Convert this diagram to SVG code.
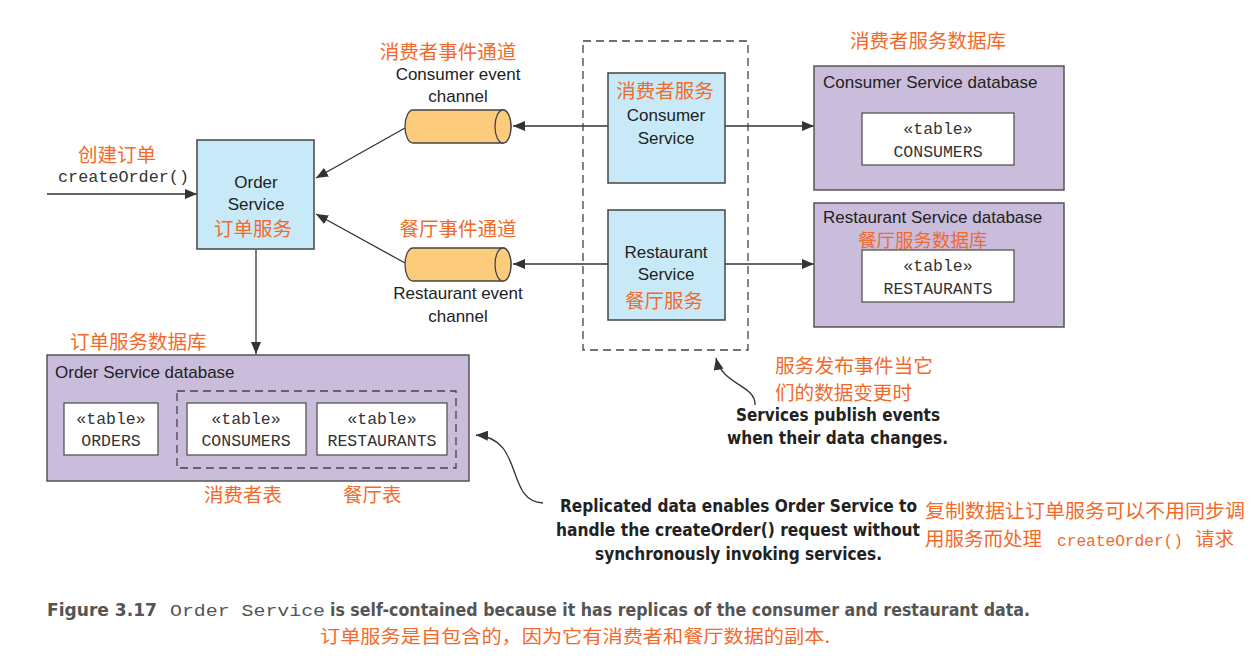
<svg xmlns="http://www.w3.org/2000/svg" width="1259" height="661" viewBox="0 0 1259 661">
<defs>
<marker id="ah" viewBox="0 0 12 10" refX="12" refY="5" markerWidth="12" markerHeight="10" markerUnits="userSpaceOnUse" orient="auto">
<path d="M0,0 L12,5 L0,10 z" fill="#333"/>
</marker>
</defs>
<style>
.svc{fill:#C8EAF8;stroke:#444;stroke-width:1.5}
.db{fill:#CABCDB;stroke:#555;stroke-width:1.5}
.tbl{fill:#fff;stroke:#555;stroke-width:1.3}
.dash{fill:none;stroke:#444;stroke-width:1.3;stroke-dasharray:8,5}
.cyl{fill:#FDCB7C;stroke:#444;stroke-width:1.3}
.ln{fill:none;stroke:#333;stroke-width:1.3}
.t{font-family:"Liberation Sans",Arial,sans-serif;font-size:17px;fill:#222}
.c{text-anchor:middle}
.zh{font-family:"Noto Sans CJK SC","Noto Sans",sans-serif;font-size:19.5px;fill:#F26A2B}
.m{font-family:"Liberation Mono","Courier New",monospace;font-size:16.5px;fill:#333}
.b{font-family:"Liberation Sans Narrow","DejaVu Sans Condensed","Liberation Sans",sans-serif;font-weight:bold;font-size:18px;fill:#222}
.cap{font-family:"Liberation Sans Narrow","DejaVu Sans Condensed","Liberation Sans",sans-serif;font-weight:bold;font-size:17px;fill:#555}
</style>
<rect width="1259" height="661" fill="#fff"/>

<g id="connectors">
<line class="ln" x1="47" y1="194" x2="197" y2="194" marker-end="url(#ah)"/>
<line class="ln" x1="256" y1="250" x2="256" y2="354" marker-end="url(#ah)"/>
<line class="ln" x1="405" y1="128" x2="316" y2="178" marker-end="url(#ah)"/>
<line class="ln" x1="405" y1="263" x2="316" y2="214" marker-end="url(#ah)"/>
<line class="ln" x1="608" y1="126" x2="513" y2="126" marker-end="url(#ah)"/>
<line class="ln" x1="608" y1="264" x2="513" y2="264" marker-end="url(#ah)"/>
<line class="ln" x1="725" y1="126" x2="814" y2="126" marker-end="url(#ah)"/>
<line class="ln" x1="725" y1="264" x2="814" y2="264" marker-end="url(#ah)"/>
<path class="ln" d="M755,405 C756,385 722,385 716,358" marker-end="url(#ah)"/>
<path class="ln" d="M543,503 C505,502 525,438 476,435" marker-end="url(#ah)"/>
</g>

<g id="order-service">
<rect class="svc" x="197" y="140" width="117" height="109"/>
<text class="t c" x="256" y="188">Order</text>
<text class="t c" x="256" y="210">Service</text>
<text class="zh c" x="253" y="236">订单服务</text>
</g>

<g id="create-order-label">
<text class="zh" x="78" y="162">创建订单</text>
<text class="m" x="58" y="182" textLength="131" lengthAdjust="spacingAndGlyphs">createOrder()</text>
</g>

<g id="consumer-channel">
<text class="zh c" x="448" y="59">消费者事件通道</text>
<text class="t c" x="458" y="80">Consumer event</text>
<text class="t c" x="458" y="102">channel</text>
<path class="cyl" d="M413,110 L503,110 A8,16.5 0 0 1 503,143 L413,143 A8,16.5 0 0 1 413,110 z"/>
<ellipse class="cyl" cx="503" cy="126.5" rx="8" ry="16.5"/>
</g>

<g id="restaurant-channel">
<text class="zh c" x="458" y="236">餐厅事件通道</text>
<path class="cyl" d="M413,248 L503,248 A8,16.5 0 0 1 503,281 L413,281 A8,16.5 0 0 1 413,248 z"/>
<ellipse class="cyl" cx="503" cy="264.5" rx="8" ry="16.5"/>
<text class="t c" x="458" y="299">Restaurant event</text>
<text class="t c" x="458" y="322">channel</text>
</g>

<g id="services-group">
<rect class="dash" x="583" y="41" width="165" height="309"/>
</g>

<g id="consumer-service">
<rect class="svc" x="608" y="73" width="117" height="110"/>
<text class="zh c" x="665" y="98">消费者服务</text>
<text class="t c" x="666" y="121">Consumer</text>
<text class="t c" x="666" y="144">Service</text>
</g>

<g id="restaurant-service">
<rect class="svc" x="608" y="210" width="117" height="110"/>
<text class="t c" x="666" y="258">Restaurant</text>
<text class="t c" x="666" y="280">Service</text>
<text class="zh c" x="664" y="308">餐厅服务</text>
</g>

<g id="consumer-db">
<text class="zh" x="850" y="48">消费者服务数据库</text>
<rect class="db" x="814" y="66" width="250" height="124"/>
<text class="t" x="823" y="88">Consumer Service database</text>
<rect class="tbl" x="862" y="113" width="152" height="52"/>
<text class="m c" x="938" y="134">«table»</text>
<text class="m c" x="938" y="157">CONSUMERS</text>
</g>

<g id="restaurant-db">
<rect class="db" x="814" y="203" width="250" height="124"/>
<text class="t" x="823" y="223">Restaurant Service database</text>
<text class="zh" x="858" y="247" style="font-size:18.5px">餐厅服务数据库</text>
<rect class="tbl" x="862" y="250" width="152" height="52"/>
<text class="m c" x="938" y="271">«table»</text>
<text class="m c" x="938" y="294">RESTAURANTS</text>
</g>

<g id="order-db">
<text class="zh" x="70" y="349">订单服务数据库</text>
<rect class="db" x="47" y="355" width="422" height="126"/>
<text class="t" x="55" y="378">Order Service database</text>
<rect class="tbl" x="64" y="403" width="94" height="52"/>
<text class="m c" x="111" y="424">«table»</text>
<text class="m c" x="111" y="446">ORDERS</text>
<rect class="dash" x="177" y="391" width="279" height="77"/>
<rect class="tbl" x="187" y="403" width="119" height="52"/>
<text class="m c" x="246" y="424">«table»</text>
<text class="m c" x="246" y="446">CONSUMERS</text>
<rect class="tbl" x="317" y="403" width="130" height="52"/>
<text class="m c" x="382" y="424">«table»</text>
<text class="m c" x="382" y="446">RESTAURANTS</text>
<text class="zh" x="204" y="502">消费者表</text>
<text class="zh" x="343" y="502">餐厅表</text>
</g>

<g id="publish-note">
<text class="zh" x="775" y="373" textLength="158" lengthAdjust="spacingAndGlyphs">服务发布事件当它</text>
<text class="zh" x="775" y="400" textLength="137" lengthAdjust="spacingAndGlyphs">们的数据变更时</text>
<text class="b" x="736" y="421" textLength="204" lengthAdjust="spacingAndGlyphs">Services publish events</text>
<text class="b" x="727" y="444" textLength="221" lengthAdjust="spacingAndGlyphs">when their data changes.</text>
</g>

<g id="replicated-note">
<text class="b" x="560" y="512" textLength="357" lengthAdjust="spacingAndGlyphs">Replicated data enables Order Service to</text>
<text class="b" x="556" y="536" textLength="364" lengthAdjust="spacingAndGlyphs">handle the createOrder() request without</text>
<text class="b" x="595" y="560" textLength="287" lengthAdjust="spacingAndGlyphs">synchronously invoking services.</text>
<text class="zh" x="925" y="518" textLength="320" lengthAdjust="spacingAndGlyphs">复制数据让订单服务可以不用同步调</text>
<text class="zh" y="546"><tspan x="925">用服务而处理</tspan><tspan x="1057" font-family="Liberation Mono,monospace" font-size="16" textLength="126" lengthAdjust="spacingAndGlyphs">createOrder()</tspan><tspan x="1195">请求</tspan></text>
</g>

<g id="caption">
<text class="cap" x="47" y="616" textLength="110" lengthAdjust="spacingAndGlyphs">Figure 3.17</text>
<text class="m" x="170" y="616" style="fill:#555;font-size:16px" textLength="155" lengthAdjust="spacingAndGlyphs">Order Service</text>
<text class="cap" x="330" y="616" textLength="700" lengthAdjust="spacingAndGlyphs">is self-contained because it has replicas of the consumer and restaurant data.</text>
<text class="zh" x="320" y="643" style="font-size:18px" textLength="510" lengthAdjust="spacingAndGlyphs">订单服务是自包含的，因为它有消费者和餐厅数据的副本.</text>
</g>
</svg>
